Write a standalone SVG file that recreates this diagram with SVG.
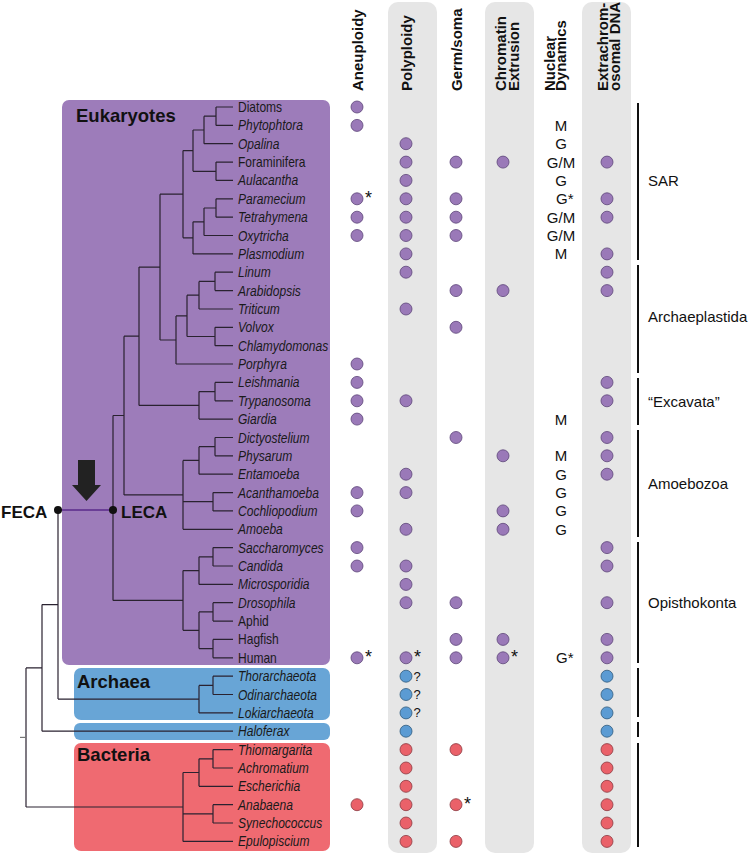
<svg xmlns="http://www.w3.org/2000/svg" width="750" height="855" viewBox="0 0 750 855">
<style>
text{font-family:"Liberation Sans",Arial,sans-serif;fill:#111}
.hd{font-size:15px;font-weight:bold}
.tx{font-size:14px;font-style:italic;fill:#1a1a1a}
.tn{font-size:14px;fill:#1a1a1a}
.cl{font-size:18.5px;font-weight:bold;fill:#111}
.nd{font-size:15px;text-anchor:middle}
.gl{font-size:15px}
.ast{font-size:18px}
.q{font-size:13px}
.pu{fill:#9a79b8;stroke:#5d4578;stroke-width:0.8}
.bl{fill:#5b9bd3;stroke:#2f5a7d;stroke-width:0.8}
.rd{fill:#ea6169;stroke:#8c3940;stroke-width:0.8}
.band{fill:#e6e6e6}
.tree{fill:none;stroke:#2a2230;stroke-width:1.2}
.bar{stroke:#111;stroke-width:2}
</style>

<!-- gray column bands -->
<g id="bands">
<rect class="band" x="388" y="2" width="49" height="851" rx="10"/>
<rect class="band" x="485" y="2" width="49" height="851" rx="10"/>
<rect class="band" x="582" y="2" width="49" height="851" rx="10"/>
</g>

<!-- headers -->
<g id="headers">
<text class="hd" transform="translate(363,91) rotate(-90)">Aneuploidy</text>
<text class="hd" transform="translate(412,91) rotate(-90)">Polyploidy</text>
<text class="hd" transform="translate(462,91) rotate(-90)">Germ/soma</text>
<text class="hd" transform="translate(506,91) rotate(-90)">Chromatin</text>
<text class="hd" transform="translate(519,91) rotate(-90)">Extrusion</text>
<text class="hd" transform="translate(555,91) rotate(-90)">Nuclear</text>
<text class="hd" transform="translate(566,91) rotate(-90)">Dynamics</text>
<text class="hd" transform="translate(608,91) rotate(-90)">Extrachrom-</text>
<text class="hd" transform="translate(620,91) rotate(-90)">osomal DNA</text>
</g>

<!-- clade boxes -->
<g id="clade-eukaryotes">
<rect x="62" y="100" width="268" height="565" rx="7" fill="#9d7cba"/>
<text class="cl" x="76" y="122">Eukaryotes</text>
</g>
<g id="clade-archaea">
<rect x="74" y="668" width="256" height="52" rx="7" fill="#68a5d6"/>
<text class="cl" x="77" y="688">Archaea</text>
</g>
<g id="clade-haloferax">
<rect x="74" y="723" width="256" height="17" rx="6" fill="#68a5d6"/>
</g>
<g id="clade-bacteria">
<rect x="74" y="743" width="256" height="108" rx="7" fill="#ef6a71"/>
<text class="cl" x="77" y="761">Bacteria</text>
</g>

<!-- connectors: tree -->
<g id="connectors">
<path class="tree" d="
M216,107V125.4 M216,107H233 M216,125.4H233
M204,116.2V143.7 M204,116.2H216 M204,143.7H233
M216,162.1V180.4 M216,162.1H233 M216,180.4H233
M193,130V171.3 M193,130H204 M193,171.3H216
M216,198.8V217.2 M216,198.8H233 M216,217.2H233
M204,208V235.5 M204,208H216 M204,235.5H233
M193,221.8V253.9 M193,221.8H204 M193,253.9H233
M183,150.6V237.8 M183,150.6H193 M183,237.8H193
M215,272.2V290.6 M215,272.2H233 M215,290.6H233
M199,281.4V309 M199,281.4H215 M199,309H233
M215,327.3V345.7 M215,327.3H233 M215,345.7H233
M187,295.2V336.5 M187,295.2H199 M187,336.5H215
M176,315.9V364 M176,315.9H187 M176,364H233
M160,194.2V340 M160,194.2H183 M160,340H176
M215,382.4V400.8 M215,382.4H233 M215,400.8H233
M199,391.6V419.1 M199,391.6H215 M199,419.1H233
M139,267.1V405.4 M139,267.1H160 M139,405.4H199
M215,437.5V455.8 M215,437.5H233 M215,455.8H233
M199,446.7V474.2 M199,446.7H215 M199,474.2H233
M213,492.6V510.9 M213,492.6H233 M213,510.9H233
M183,460.4V529.3 M183,460.4H199 M183,501.7H213 M183,529.3H233
M124,336.2V494.9 M124,336.2H139 M124,494.9H183
M213,547.6V566 M213,547.6H233 M213,566H233
M199,556.8V584.4 M199,556.8H213 M199,584.4H233
M213,602.7V621.1 M213,602.7H233 M213,621.1H233
M213,639.4V657.8 M213,639.4H233 M213,657.8H233
M199,611.9V648.6 M199,611.9H213 M199,648.6H213
M183,570.6V630.3 M183,570.6H199 M183,630.3H199
M113,415.5V600.4 M113,415.5H124 M113,600.4H183
M213,676.2V694.5 M213,676.2H233 M213,694.5H233
M199,685.4V712.9 M199,685.4H213 M199,712.9H233
M58,510V699.1 M58,699.1H199
M42,604.6V731.2 M42,604.6H58 M42,731.2H233
M213,749.6V768 M213,749.6H233 M213,768H233
M199,758.8V786.3 M199,758.8H213 M199,786.3H233
M213,804.7V823 M213,804.7H233 M213,823H233
M183,772.5V841.4 M183,772.5H199 M183,813.9H213 M183,841.4H233
M26,667.9V807 M26,667.9H42 M26,807H183
"/>
<path d="M20,737.4H26" stroke="#777" stroke-width="1.2"/>
<path d="M58,510H113" stroke="#5a2a8a" stroke-width="1.6"/>
</g>

<!-- FECA / LECA / arrow -->
<g id="feca">
<circle cx="58" cy="510" r="4" fill="#111"/>
<text x="1" y="518" style="font-size:17px;font-weight:bold">FECA</text>
</g>
<g id="leca">
<circle cx="113" cy="510" r="4" fill="#111"/>
<text x="121" y="518" style="font-size:17px;font-weight:bold">LECA</text>
</g>
<g id="arrow">
<polygon points="78,460 95,460 95,485 101,485 86.5,501 72,485 78,485" fill="#222"/>
</g>

<!-- taxa rows -->
<g id="t-diatoms"><text class="tn" transform="translate(238,112) scale(0.86,1)">Diatoms</text><circle class="pu" cx="357" cy="107" r="6"/></g>
<g id="t-phytophtora"><text class="tx" transform="translate(238,130.4) scale(0.86,1)">Phytophtora</text><circle class="pu" cx="357" cy="125.4" r="6"/><text class="nd" x="561" y="130.8">M</text></g>
<g id="t-opalina"><text class="tx" transform="translate(238,148.7) scale(0.86,1)">Opalina</text><circle class="pu" cx="406" cy="143.7" r="6"/><text class="nd" x="561" y="149.1">G</text></g>
<g id="t-foraminifera"><text class="tn" transform="translate(238,167.1) scale(0.86,1)">Foraminifera</text><circle class="pu" cx="406" cy="162.1" r="6"/><circle class="pu" cx="456" cy="162.1" r="6"/><circle class="pu" cx="503" cy="162.1" r="6"/><text class="nd" x="561" y="167.5">G/M</text><circle class="pu" cx="607" cy="162.1" r="6"/></g>
<g id="t-aulacantha"><text class="tx" transform="translate(238,185.4) scale(0.86,1)">Aulacantha</text><circle class="pu" cx="406" cy="180.4" r="6"/><text class="nd" x="561" y="185.8">G</text></g>
<g id="t-paramecium"><text class="tx" transform="translate(238,203.8) scale(0.86,1)">Paramecium</text><circle class="pu" cx="357" cy="198.8" r="6"/><text class="ast" x="365" y="204">*</text><circle class="pu" cx="406" cy="198.8" r="6"/><circle class="pu" cx="456" cy="198.8" r="6"/><text class="gl" x="556" y="204.2">G*</text><circle class="pu" cx="607" cy="198.8" r="6"/></g>
<g id="t-tetrahymena"><text class="tx" transform="translate(238,222.2) scale(0.86,1)">Tetrahymena</text><circle class="pu" cx="357" cy="217.2" r="6"/><circle class="pu" cx="406" cy="217.2" r="6"/><circle class="pu" cx="456" cy="217.2" r="6"/><text class="nd" x="561" y="222.6">G/M</text><circle class="pu" cx="607" cy="217.2" r="6"/></g>
<g id="t-oxytricha"><text class="tx" transform="translate(238,240.5) scale(0.86,1)">Oxytricha</text><circle class="pu" cx="357" cy="235.5" r="6"/><circle class="pu" cx="406" cy="235.5" r="6"/><circle class="pu" cx="456" cy="235.5" r="6"/><text class="nd" x="561" y="240.9">G/M</text></g>
<g id="t-plasmodium"><text class="tx" transform="translate(238,258.9) scale(0.86,1)">Plasmodium</text><circle class="pu" cx="406" cy="253.9" r="6"/><text class="nd" x="561" y="259.3">M</text><circle class="pu" cx="607" cy="253.9" r="6"/></g>
<g id="t-linum"><text class="tx" transform="translate(238,277.2) scale(0.86,1)">Linum</text><circle class="pu" cx="406" cy="272.2" r="6"/><circle class="pu" cx="607" cy="272.2" r="6"/></g>
<g id="t-arabidopsis"><text class="tx" transform="translate(238,295.6) scale(0.86,1)">Arabidopsis</text><circle class="pu" cx="456" cy="290.6" r="6"/><circle class="pu" cx="503" cy="290.6" r="6"/><circle class="pu" cx="607" cy="290.6" r="6"/></g>
<g id="t-triticum"><text class="tx" transform="translate(238,314) scale(0.86,1)">Triticum</text><circle class="pu" cx="406" cy="309" r="6"/></g>
<g id="t-volvox"><text class="tx" transform="translate(238,332.3) scale(0.86,1)">Volvox</text><circle class="pu" cx="456" cy="327.3" r="6"/></g>
<g id="t-chlamydomonas"><text class="tx" transform="translate(238,350.7) scale(0.86,1)">Chlamydomonas</text></g>
<g id="t-porphyra"><text class="tx" transform="translate(238,369) scale(0.86,1)">Porphyra</text><circle class="pu" cx="357" cy="364" r="6"/></g>
<g id="t-leishmania"><text class="tx" transform="translate(238,387.4) scale(0.86,1)">Leishmania</text><circle class="pu" cx="357" cy="382.4" r="6"/><circle class="pu" cx="607" cy="382.4" r="6"/></g>
<g id="t-trypanosoma"><text class="tx" transform="translate(238,405.8) scale(0.86,1)">Trypanosoma</text><circle class="pu" cx="357" cy="400.8" r="6"/><circle class="pu" cx="406" cy="400.8" r="6"/><circle class="pu" cx="607" cy="400.8" r="6"/></g>
<g id="t-giardia"><text class="tx" transform="translate(238,424.1) scale(0.86,1)">Giardia</text><circle class="pu" cx="357" cy="419.1" r="6"/><text class="nd" x="561" y="424.5">M</text></g>
<g id="t-dictyostelium"><text class="tx" transform="translate(238,442.5) scale(0.86,1)">Dictyostelium</text><circle class="pu" cx="456" cy="437.5" r="6"/><circle class="pu" cx="607" cy="437.5" r="6"/></g>
<g id="t-physarum"><text class="tx" transform="translate(238,460.8) scale(0.86,1)">Physarum</text><circle class="pu" cx="503" cy="455.8" r="6"/><text class="nd" x="561" y="461.2">M</text><circle class="pu" cx="607" cy="455.8" r="6"/></g>
<g id="t-entamoeba"><text class="tx" transform="translate(238,479.2) scale(0.86,1)">Entamoeba</text><circle class="pu" cx="406" cy="474.2" r="6"/><text class="nd" x="561" y="479.6">G</text><circle class="pu" cx="607" cy="474.2" r="6"/></g>
<g id="t-acanthamoeba"><text class="tx" transform="translate(238,497.6) scale(0.86,1)">Acanthamoeba</text><circle class="pu" cx="357" cy="492.6" r="6"/><circle class="pu" cx="406" cy="492.6" r="6"/><text class="nd" x="561" y="498">G</text></g>
<g id="t-cochliopodium"><text class="tx" transform="translate(238,515.9) scale(0.86,1)">Cochliopodium</text><circle class="pu" cx="357" cy="510.9" r="6"/><circle class="pu" cx="503" cy="510.9" r="6"/><text class="nd" x="561" y="516.3">G</text></g>
<g id="t-amoeba"><text class="tx" transform="translate(238,534.3) scale(0.86,1)">Amoeba</text><circle class="pu" cx="406" cy="529.3" r="6"/><circle class="pu" cx="503" cy="529.3" r="6"/><text class="nd" x="561" y="534.7">G</text></g>
<g id="t-saccharomyces"><text class="tx" transform="translate(238,552.6) scale(0.86,1)">Saccharomyces</text><circle class="pu" cx="357" cy="547.6" r="6"/><circle class="pu" cx="607" cy="547.6" r="6"/></g>
<g id="t-candida"><text class="tx" transform="translate(238,571) scale(0.86,1)">Candida</text><circle class="pu" cx="357" cy="566" r="6"/><circle class="pu" cx="406" cy="566" r="6"/><circle class="pu" cx="607" cy="566" r="6"/></g>
<g id="t-microsporidia"><text class="tx" transform="translate(238,589.4) scale(0.86,1)">Microsporidia</text><circle class="pu" cx="406" cy="584.4" r="6"/></g>
<g id="t-drosophila"><text class="tx" transform="translate(238,607.7) scale(0.86,1)">Drosophila</text><circle class="pu" cx="406" cy="602.7" r="6"/><circle class="pu" cx="456" cy="602.7" r="6"/><circle class="pu" cx="607" cy="602.7" r="6"/></g>
<g id="t-aphid"><text class="tn" transform="translate(238,626.1) scale(0.86,1)">Aphid</text></g>
<g id="t-hagfish"><text class="tn" transform="translate(238,644.4) scale(0.86,1)">Hagfish</text><circle class="pu" cx="456" cy="639.4" r="6"/><circle class="pu" cx="503" cy="639.4" r="6"/><circle class="pu" cx="607" cy="639.4" r="6"/></g>
<g id="t-human"><text class="tn" transform="translate(238,662.8) scale(0.86,1)">Human</text><circle class="pu" cx="357" cy="657.8" r="6"/><text class="ast" x="365" y="663">*</text><circle class="pu" cx="406" cy="657.8" r="6"/><text class="ast" x="414" y="663">*</text><circle class="pu" cx="456" cy="657.8" r="6"/><circle class="pu" cx="503" cy="657.8" r="6"/><text class="ast" x="511" y="663">*</text><text class="gl" x="556" y="663.2">G*</text><circle class="pu" cx="607" cy="657.8" r="6"/></g>
<g id="t-thorarchaeota"><text class="tx" transform="translate(238,681.2) scale(0.86,1)">Thorarchaeota</text><circle class="bl" cx="406" cy="676.2" r="6"/><text class="q" x="413.5" y="680.7">?</text><circle class="bl" cx="607" cy="676.2" r="6"/></g>
<g id="t-odinarchaeota"><text class="tx" transform="translate(238,699.5) scale(0.86,1)">Odinarchaeota</text><circle class="bl" cx="406" cy="694.5" r="6"/><text class="q" x="413.5" y="699">?</text><circle class="bl" cx="607" cy="694.5" r="6"/></g>
<g id="t-lokiarchaeota"><text class="tx" transform="translate(238,717.9) scale(0.86,1)">Lokiarchaeota</text><circle class="bl" cx="406" cy="712.9" r="6"/><text class="q" x="413.5" y="717.4">?</text><circle class="bl" cx="607" cy="712.9" r="6"/></g>
<g id="t-haloferax"><text class="tx" transform="translate(238,736.2) scale(0.86,1)">Haloferax</text><circle class="bl" cx="406" cy="731.2" r="6"/><circle class="bl" cx="607" cy="731.2" r="6"/></g>
<g id="t-thiomargarita"><text class="tx" transform="translate(238,754.6) scale(0.86,1)">Thiomargarita</text><circle class="rd" cx="406" cy="749.6" r="6"/><circle class="rd" cx="456" cy="749.6" r="6"/><circle class="rd" cx="607" cy="749.6" r="6"/></g>
<g id="t-achromatium"><text class="tx" transform="translate(238,773) scale(0.86,1)">Achromatium</text><circle class="rd" cx="406" cy="768" r="6"/><circle class="rd" cx="607" cy="768" r="6"/></g>
<g id="t-escherichia"><text class="tx" transform="translate(238,791.3) scale(0.86,1)">Escherichia</text><circle class="rd" cx="406" cy="786.3" r="6"/><circle class="rd" cx="607" cy="786.3" r="6"/></g>
<g id="t-anabaena"><text class="tx" transform="translate(238,809.7) scale(0.86,1)">Anabaena</text><circle class="rd" cx="357" cy="804.7" r="6"/><circle class="rd" cx="406" cy="804.7" r="6"/><circle class="rd" cx="456" cy="804.7" r="6"/><text class="ast" x="464" y="810">*</text><circle class="rd" cx="607" cy="804.7" r="6"/></g>
<g id="t-synechococcus"><text class="tx" transform="translate(238,828) scale(0.86,1)">Synechococcus</text><circle class="rd" cx="406" cy="823" r="6"/><circle class="rd" cx="607" cy="823" r="6"/></g>
<g id="t-epulopiscium"><text class="tx" transform="translate(238,846.4) scale(0.86,1)">Epulopiscium</text><circle class="rd" cx="406" cy="841.4" r="6"/><circle class="rd" cx="456" cy="841.4" r="6"/><circle class="rd" cx="607" cy="841.4" r="6"/></g>

<!-- group bars -->
<g id="groups">
<line class="bar" x1="638" y1="103" x2="638" y2="260"/>
<line class="bar" x1="638" y1="265" x2="638" y2="373"/>
<line class="bar" x1="638" y1="378" x2="638" y2="425"/>
<line class="bar" x1="638" y1="430" x2="638" y2="537"/>
<line class="bar" x1="638" y1="542" x2="638" y2="663"/>
<line class="bar" x1="638" y1="668" x2="638" y2="717"/>
<line class="bar" x1="638" y1="722" x2="638" y2="737"/>
<line class="bar" x1="638" y1="743" x2="638" y2="847"/>
<text class="gl" x="648" y="186">SAR</text>
<text class="gl" x="648" y="322">Archaeplastida</text>
<text class="gl" x="648" y="407">“Excavata”</text>
<text class="gl" x="648" y="489">Amoebozoa</text>
<text class="gl" x="648" y="608">Opisthokonta</text>
</g>
</svg>
